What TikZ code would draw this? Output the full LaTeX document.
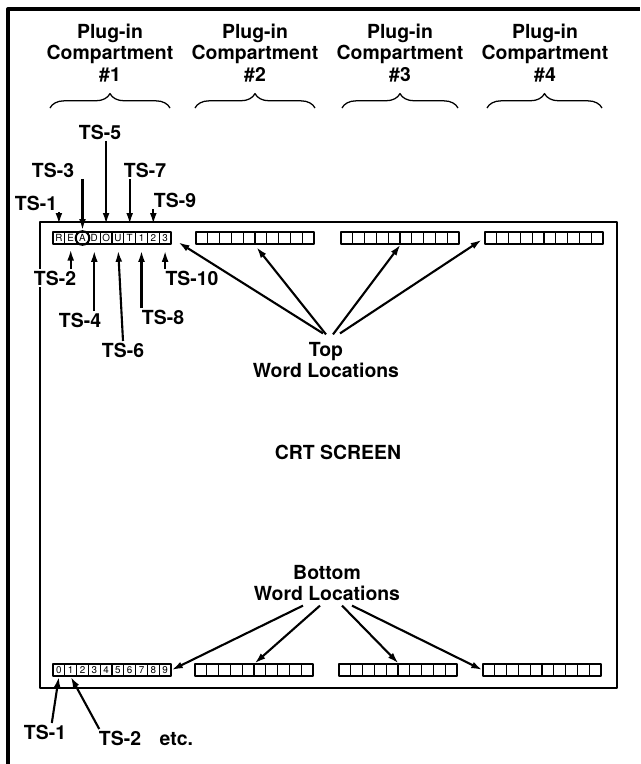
\documentclass[tikz,border=0pt]{standalone}
\usepackage{fontspec}
\setmainfont{TeX Gyre Heros}
\usetikzlibrary{positioning,arrows.meta,decorations.pathreplacing}

\tikzset{
  cell/.style={draw, line width=0.8pt, minimum width=0.295cm, minimum height=0.3cm,
    inner sep=0pt, font=\fontsize{7}{7}\selectfont},
  lbl/.style={font=\fontsize{13.8}{15.3}\selectfont\bfseries, inner sep=1pt, align=center},
  ptr/.style={->, line width=1.5pt},
  hbrace/.style={decorate, decoration={brace, amplitude=0.36cm}, line width=0.9pt}
}

\begin{document}
\begin{tikzpicture}[x=0.025cm, y=-0.025cm, >={Latex[length=2.8mm,width=1.7mm]}, line join=round]
  \useasboundingbox (0,0) rectangle (640,764);
  % --- frame and screen ---
  \draw[line width=2.4pt] (8,764) -- (8,9) -- (640,9);
  \draw[line width=1.5pt] (40,222) rectangle (617,688);
  % --- compartments ---
  \foreach \n/\x in {1/110,2/255,3/400,4/545}
    \node[lbl] (hdr\n) at (\x,53) {Plug-in\\Compartment\\\#\n};
  \foreach \a/\b in {50/170,195/315,342/458,487/602}
    \draw[hbrace] (\a,108) -- (\b,108);
  % --- top words ---
  \foreach \ch [count=\i] in {R,E,A,D,O,U,T,1,2,3}
    \node[cell] (a\i) at ({53+11.8*(\i-0.5)},238) {\ch};
  \draw[line width=1.4pt] (a3) circle (0.17cm);
  \foreach \w/\x in {2/196,3/341,4/485}
    \foreach \i in {1,...,10}
      \node[cell] (t\w-\i) at ({\x+11.8*(\i-0.5)},238) {};
  % --- bottom words ---
  \foreach \i in {0,...,9}
    \node[cell] (b1-\i) at ({53+11.8*(\i+0.5)},670) {\i};
  \foreach \w/\x in {2/195,3/339,4/483}
    \foreach \i in {1,...,10}
      \node[cell] (b\w-\i) at ({\x+11.8*(\i-0.5)},670) {};
  % --- TS labels, top row ---
  \node[lbl] (ts1) at (36,203) {TS-1};
  \node[lbl, fill=white] (ts2) at (55,278) {TS-2};
  \node[lbl] (ts3) at (53,170) {TS-3};
  \node[lbl] (ts4) at (80,320) {TS-4};
  \node[lbl] (ts5) at (100,132) {TS-5};
  \node[lbl] (ts6) at (123,350) {TS-6};
  \node[lbl] (ts7) at (145,170) {TS-7};
  \node[lbl] (ts8) at (163,317) {TS-8};
  \node[lbl] (ts9) at (175,200) {TS-9};
  \node[lbl] (ts10) at (192,278) {TS-10};
  \draw[ptr, shorten >=0.18cm] (ts1.south -| a1) -- (a1.north);
  \draw[ptr, shorten >=0.03cm] (ts3.south -| a3) -- (a3.north);
  \draw[ptr, shorten >=0.18cm] (ts5.south -| a5) -- (a5.north);
  \draw[ptr, shorten >=0.18cm] (ts7.south -| a7) -- (a7.north);
  \draw[ptr, shorten >=0.18cm] (ts9.south -| a9) -- (a9.north);
  \draw[ptr, shorten >=0.12cm] (ts2.north -| a2) -- (a2.south);
  \draw[ptr, shorten >=0.15cm] (ts4.north -| a4) -- (a4.south);
  \draw[ptr, shorten >=0.15cm] (ts6.north) -- (a6.south);
  \draw[ptr, shorten >=0.15cm] (ts8.north -| a8) -- (a8.south);
  \draw[ptr, shorten >=0.15cm] (ts10.north -| a10) -- (a10.south);
  % --- word location labels ---
  \node[lbl] (toplbl) at (326,360) {Top\\Word Locations};
  \node[lbl] (crt) at (338,452) {CRT SCREEN};
  \node[lbl] (botlbl) at (327,583) {Bottom\\Word Locations};
  \draw[ptr, shorten >=0.2cm] ([shift={(-3,-7)}]toplbl.north) -- (a10.east);
  \draw[ptr, shorten >=0.08cm] ([shift={(0,-6)}]toplbl.north) -- (t2-6.south west);
  \draw[ptr] ([shift={(7,-6)}]toplbl.north) -- (t3-5.south east);
  \draw[ptr, shorten >=0.08cm] ([shift={(14,-7)}]toplbl.north) -- (t4-1.west);
  \draw[ptr] ([shift={(-24,3)}]botlbl.south) -- (b1-9.east);
  \draw[ptr] ([shift={(-7,3)}]botlbl.south) -- (b2-5.north east);
  \draw[ptr] ([shift={(15,3)}]botlbl.south) -- (b3-5.north east);
  \draw[ptr] ([shift={(25,3)}]botlbl.south) -- (b4-1.west);
  % --- TS labels, bottom row ---
  \node[lbl] (bts1) at (45,732) {TS-1};
  \node[lbl] (bts2) at (120,738) {TS-2};
  \node[lbl, right=0.38cm of bts2.base east, anchor=base west] (etc) {etc.};
  \draw[ptr] ([xshift=0.17cm]bts1.north) -- (b1-0.south);
  \draw[ptr] ([xshift=0.05cm]bts2.north west) -- (b1-1.south);
\end{tikzpicture}
\end{document}
